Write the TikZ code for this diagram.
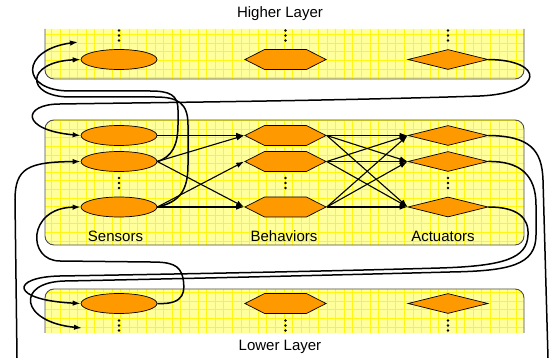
\documentclass[tikz,border=0pt]{standalone}
\usepackage{fontspec}
\setmainfont{Liberation Sans}
\usetikzlibrary{arrows.meta,shapes.geometric,shapes.symbols}

\definecolor{layeryellow}{RGB}{255,255,155}
\definecolor{gridyellow}{RGB}{255,246,20}
\definecolor{boxorange}{RGB}{255,153,0}

\begin{document}
\begin{tikzpicture}[x=1pt,y=1pt,
  sensor/.style={ellipse,draw,fill=boxorange,line width=0.7pt,minimum width=76pt,minimum height=20pt,inner sep=0pt},
  behavior/.style={signal,signal to=east and west,signal pointer angle=54,draw,fill=boxorange,line width=0.7pt,minimum width=81pt,minimum height=20pt,inner sep=0pt},
  actuator/.style={diamond,aspect=4,draw,fill=boxorange,line width=0.7pt,minimum width=80pt,minimum height=20pt,inner sep=0pt},
  layer/.style={fill=layeryellow,path picture={\draw[gridyellow,line width=0.5pt] (path picture bounding box.south west) grid[step=8.6pt] (path picture bounding box.north east);}},
  frame/.style={draw=black!70,line width=0.9pt},
  wire/.style={-{Latex[length=8pt,width=5.5pt]},line width=1.1pt},
  link/.style={line width=1.5pt},
  feedback/.style={link,-{Latex[length=8pt,width=5.5pt]}},
  lbl/.style={font=\fontsize{15}{18}\selectfont}]

\useasboundingbox (0,0) rectangle (550,-358);

% Layers: higher one cut at the top, lower one cut at the bottom
\path[layer] (45,-29) -- (45,-70) arc[start angle=180,end angle=270,radius=9] -- (515,-79) arc[start angle=270,end angle=360,radius=9] -- (524,-29) -- cycle;
\draw[frame] (45,-29) -- (45,-70) arc[start angle=180,end angle=270,radius=9] -- (515,-79) arc[start angle=270,end angle=360,radius=9] -- (524,-29);

\draw[layer,frame,rounded corners=9pt] (45,-120) rectangle (524,-245);

\path[layer] (45,-333) -- (45,-298) arc[start angle=180,end angle=90,radius=9] -- (515,-289) arc[start angle=90,end angle=0,radius=9] -- (524,-333) -- cycle;
\draw[frame] (45,-333) -- (45,-298) arc[start angle=180,end angle=90,radius=9] -- (515,-289) arc[start angle=90,end angle=0,radius=9] -- (524,-333);

\node[lbl] (higher) at (280,-14) {Higher Layer};
\node[lbl] (lower) at (280,-347) {Lower Layer};

% Higher layer
\node[sensor] (tS) at (119,-59.5) {};
\node[behavior] (tB) at (285.5,-59.5) {};
\node[actuator] (tA) at (448,-59.5) {};

% This layer
\foreach \i/\y in {1/135.5,2/161.5,3/207} {
  \node[sensor] (mS\i) at (119,-\y) {};
  \node[behavior] (mB\i) at (285.5,-\y) {};
  \node[actuator] (mA\i) at (448,-\y) {};
}
\node[lbl] (sensors) at (115.5,-236) {Sensors};
\node[lbl] (behaviors) at (284,-236) {Behaviors};
\node[lbl] (actuators) at (443,-236) {Actuators};

% Lower layer
\node[sensor] (bS) at (119,-303.5) {};
\node[behavior] (bB) at (285.5,-303.5) {};
\node[actuator] (bA) at (448,-303.5) {};

% vertical dots
\foreach \x in {119,285.5,448}
  \foreach \y in {30.5,35.5,40.5,178,183,188,320.5,325.5,330.5}
    \fill (\x,-\y) circle[radius=1.4];

\coordinate (hiTop) at (78,-42);
\coordinate (hiBot) at (82,-328);
\coordinate (outR) at (548,-358);
\coordinate (outL) at (17,-358);

% Sensors -> behaviors -> actuators
\foreach \s/\b in {1/1,2/1,2/3,3/2,3/3}
  \draw[wire] (mS\s.east) -- (mB\b.west);
\foreach \b in {1,2,3}
  \foreach \a in {1,2,3}
    \draw[wire] (mB\b.east) -- (mA\a.west);

% Higher layer actuator back into the sensors
\draw[feedback] (tA.east) .. controls (545,-60) and (545,-93) .. (480,-96) .. controls (330,-101) and (120,-103) .. (60,-104) .. controls (22,-104) and (20,-130) .. (mS1.west);

% Sensors up to the higher layer
\draw[feedback] (mS2.east) .. controls (172,-157) and (178,-145) .. (178,-125) -- (178,-110) .. controls (178,-95) and (170,-91) .. (150,-91) -- (70,-91) .. controls (20,-91) and (20,-50) .. (hiTop);
\draw[feedback] (mS3.east) .. controls (180,-202) and (188,-190) .. (188,-165) -- (188,-125) .. controls (188,-103) and (178,-97) .. (155,-97) -- (70,-97) .. controls (25,-97) and (25,-62) .. (tS.west);

% Actuators down to the lower layer
\draw[link] (mA1.east) .. controls (530,-136) and (542,-150) .. (543,-180) -- (outR);
\draw[feedback] (mA3.east) .. controls (518,-207) and (529,-218) .. (528,-235) .. controls (527,-258) and (505,-266) .. (440,-268) .. controls (300,-272) and (120,-275) .. (60,-276) .. controls (10,-277) and (10,-300) .. (bS.west);
\draw[feedback] (mA2.east) .. controls (520,-161) and (536,-175) .. (536,-205) -- (536,-235) .. controls (536,-265) and (510,-271) .. (450,-272) .. controls (300,-276) and (120,-280) .. (65,-281) .. controls (15,-282) and (20,-322) .. (hiBot);

% Lower layer sensor back up
\draw[feedback] (bS.east) .. controls (186,-305) and (185,-290) .. (183,-278) .. controls (180,-264) and (170,-262) .. (150,-262) -- (60,-261) .. controls (27,-261) and (27,-208) .. (mS3.west);
\draw[feedback] (outL) -- (15,-200) .. controls (15,-168) and (28,-162) .. (mS2.west);

\end{tikzpicture}
\end{document}
